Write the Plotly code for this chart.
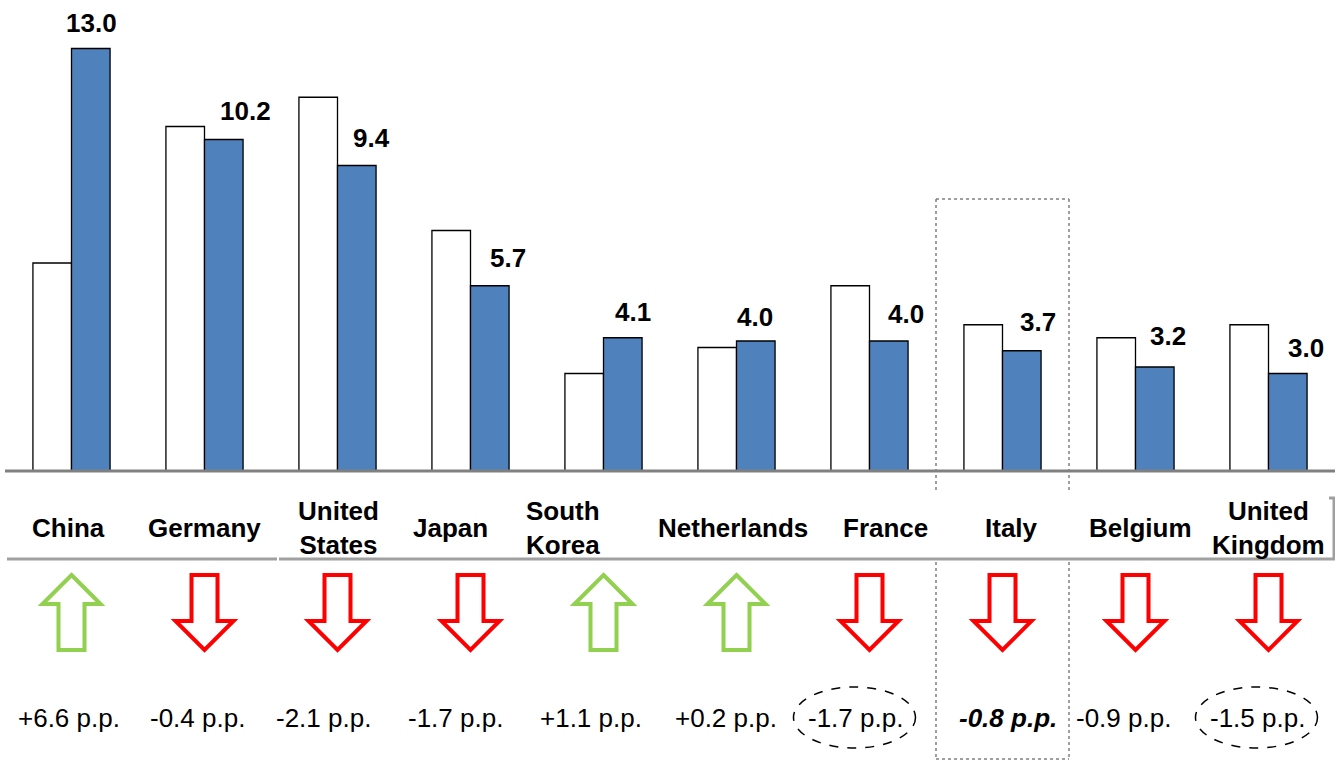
import plotly.graph_objects as go

# ---------------- data ----------------
countries = ["China", "Germany", "United States", "Japan", "South Korea",
             "Netherlands", "France", "Italy", "Belgium", "United Kingdom"]
country_labels = ["China", "Germany", "United<br>States", "Japan", "South<br>Korea",
                  "Netherlands", "France", "Italy", "Belgium", "United<br>Kingdom"]
share_prev = [6.4, 10.6, 11.5, 7.4, 3.0, 3.8, 5.7, 4.5, 4.1, 4.5]
share_curr = [13.0, 10.2, 9.4, 5.7, 4.1, 4.0, 4.0, 3.7, 3.2, 3.0]
change_pp = [6.6, -0.4, -2.1, -1.7, 1.1, 0.2, -1.7, -0.8, -0.9, -1.5]
highlight = "Italy"
circled = ["France", "United Kingdom"]

# ---------------- layout helpers (pixels) ----------------
W, H = 1341, 760
ML, MR = 5, 6
N = len(countries)
CAT_PX = (W - ML - MR) / N          # pixels per category
BASE_PX = 471                        # baseline pixel row
PX_PER_UNIT = 32.5
Y_TOP = BASE_PX / PX_PER_UNIT
Y_BOT = (BASE_PX - H) / PX_PER_UNIT

val_dx = [1, 22, 15, 18, 10, -1, 17, 16, 13, 18]       # value label shift from blue bar centre
val_gap = [16, 19, 18, 18, 16, 15, 18, 19, 22, 16]     # gap between bar top and text baseline
name_dx = [-3, 0, 1, -20, -41, -4, 16, 9, 5, 0]        # country label shift
chg_dx = [-3, -7, -14, -15, -13, -11, -14, 5, -12, -11]  # change label shift

FONT = "Arial, 'Liberation Sans', sans-serif"
BLUE = "#4F81BD"
GREEN = "#92D050"
RED = "#FF0000"


def xd(i, dpx=0.0):
    return i + dpx / CAT_PX


def xabs(px):
    return (px - ML) / CAT_PX - 0.5


def yp(py):
    return 1 - py / H


fig = go.Figure()
fig.add_trace(go.Bar(x=list(range(N)), y=share_prev, name="prev",
                     marker=dict(color="white", line=dict(color="black", width=1.3))))
fig.add_trace(go.Bar(x=list(range(N)), y=share_curr, name="curr",
                     marker=dict(color=BLUE, line=dict(color="black", width=1.3))))

shapes = []
annotations = []

# baseline
shapes.append(dict(type="line", xref="x", yref="y", x0=xabs(5), x1=xabs(1336), y0=0, y1=0,
                   line=dict(color="#808080", width=3)))

# label band lines
band_col = "#A0A0A0"
shapes.append(dict(type="line", xref="x", yref="paper", x0=xabs(7), x1=xabs(277),
                   y0=yp(559), y1=yp(559), line=dict(color=band_col, width=3)))
shapes.append(dict(type="line", xref="x", yref="paper", x0=xabs(279), x1=xabs(1335),
                   y0=yp(559), y1=yp(559), line=dict(color=band_col, width=3)))
shapes.append(dict(type="line", xref="x", yref="paper", x0=xabs(1334), x1=xabs(1334),
                   y0=yp(498), y1=yp(560), line=dict(color=band_col, width=3)))
shapes.append(dict(type="line", xref="x", yref="paper", x0=xabs(1329), x1=xabs(1335),
                   y0=yp(498), y1=yp(498), line=dict(color=band_col, width=3)))

for i, c in enumerate(countries):
    blue_c = CAT_PX * (1 - 0.42) / 4   # blue bar centre offset
    # value labels
    annotations.append(dict(x=xd(i, blue_c + val_dx[i]), y=share_curr[i], xref="x", yref="y",
                            text=f"{share_curr[i]:.1f}", showarrow=False, yanchor="middle",
                            yshift=val_gap[i] + 9.3,
                            font=dict(family=FONT, size=26, color="black", weight="bold")))
    # country labels
    annotations.append(dict(x=xd(i, name_dx[i]), y=yp(528), xref="x", yref="paper",
                            text=country_labels[i], showarrow=False, yanchor="middle",
                            font=dict(family=FONT, size=26, color="black", weight="bold")))
    # change labels
    txt = f"{change_pp[i]:+.1f} p.p."
    if c == highlight:
        font = dict(family=FONT, size=26, color="black", weight="bold", style="italic")
    else:
        font = dict(family=FONT, size=26, color="black")
    annotations.append(dict(x=xd(i, chg_dx[i]), y=yp(718), xref="x", yref="paper",
                            text=txt, showarrow=False, yanchor="middle", font=font))
    # arrows
    if change_pp[i] >= 0:
        pts = [(0, 575), (29, 604), (13, 604), (13, 650), (-13, 650), (-13, 604), (-29, 604)]
        col = GREEN
    else:
        pts = [(-13, 575), (13, 575), (13, 621), (29, 621), (0, 650), (-29, 621), (-13, 621)]
        col = RED
    path = "M " + " L ".join(f"{xd(i, dx):.5f},{yp(py):.5f}" for dx, py in pts) + " Z"
    shapes.append(dict(type="path", xref="x", yref="paper", path=path,
                       line=dict(color=col, width=4), fillcolor="rgba(0,0,0,0)"))
    # dashed ellipses
    if c in circled:
        cx = chg_dx[i] - 1
        shapes.append(dict(type="circle", xref="x", yref="paper",
                           x0=xd(i, cx - 61), x1=xd(i, cx + 61), y0=yp(748), y1=yp(687),
                           line=dict(color="black", width=1.5, dash="dash")))
    # highlight dotted box
    if c == highlight:
        dot = dict(color="#808080", width=1.5, dash="dot")
        segs = [((i - 0.5, 199), (i + 0.5, 199)),
                ((i - 0.5, 199), (i - 0.5, 490)), ((i - 0.5, 562), (i - 0.5, 759)),
                ((i + 0.5, 199), (i + 0.5, 490)), ((i + 0.5, 562), (i + 0.5, 759)),
                ((i - 0.5, 759), (i + 0.5, 759))]
        for (xa, ya), (xb, yb) in segs:
            shapes.append(dict(type="line", xref="x", yref="paper", x0=xa, x1=xb,
                               y0=yp(ya), y1=yp(yb), line=dot))

fig.update_layout(
    width=W, height=H,
    margin=dict(l=ML, r=MR, t=0, b=0),
    paper_bgcolor="white", plot_bgcolor="white",
    barmode="group", bargap=0.42, bargroupgap=0,
    showlegend=False,
    xaxis=dict(range=[-0.5, N - 0.5], visible=False, fixedrange=True),
    yaxis=dict(range=[Y_BOT, Y_TOP], visible=False, fixedrange=True),
    shapes=shapes, annotations=annotations,
)

fig.write_html("out.html", config={"displayModeBar": False})
